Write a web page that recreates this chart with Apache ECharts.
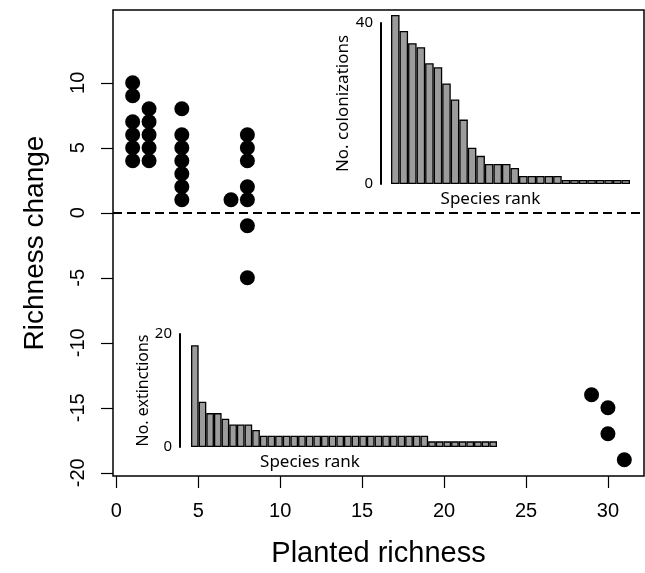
<!DOCTYPE html>
<html>
<head>
<meta charset="utf-8">
<script src="https://cdn.jsdelivr.net/npm/echarts@6/dist/echarts.min.js"></script>
<style>
  html, body { margin: 0; padding: 0; background: #fff; }
  #main { width: 645px; height: 573px; }
</style>
</head>
<body>
<div id="main"></div>
<script>
// main scatter: planted richness vs richness change
var plantedRichness = [1, 1, 1, 1, 1, 1, 2, 2, 2, 2, 2, 4, 4, 4, 4, 4, 4, 4, 7, 8, 8, 8, 8, 8, 8, 8, 29, 30, 30, 31];
var richnessChange  = [10, 9, 7, 6, 5, 4, 8, 7, 6, 5, 4, 8, 6, 5, 4, 3, 2, 1, 1, 6, 5, 4, 2, 1, -1, -5, -14, -15, -17, -19];
var xTicks = [0, 5, 10, 15, 20, 25, 30];
var yTicks = [-20, -15, -10, -5, 0, 5, 10];

// inset bars (species ranked)
var colonizations = [42, 38, 35, 34, 30, 29, 25, 21, 16, 9, 7, 5, 5, 5, 4, 2, 2, 2, 2, 2, 1, 1, 1, 1, 1, 1, 1, 1];
var extinctions = [18, 8, 6, 6, 5, 4, 4, 4, 3,
  2, 2, 2, 2, 2, 2, 2, 2, 2, 2, 2, 2, 2, 2, 2, 2, 2, 2, 2, 2, 2, 2,
  1, 1, 1, 1, 1, 1, 1, 1, 1];

var colRank = colonizations.map(function (v, i) { return i + 1; });
var extRank = extinctions.map(function (v, i) { return i + 1; });
var points = plantedRichness.map(function (x, i) { return [x, richnessChange[i]]; });

var mainFont = 'Liberation Sans';
var insetFont = 'Noto Sans';

var chart = echarts.init(document.getElementById('main'));
var option = {
  animation: false,
  backgroundColor: '#fff',
  grid: [
    { left: 113, top: 10, width: 531, height: 471, show: true, borderColor: '#000', borderWidth: 1.5, backgroundColor: 'transparent' },
    { left: 391, top: 23, width: 239, height: 161 },
    { left: 191, top: 334, width: 306, height: 113 }
  ],
  xAxis: [
    {
      gridIndex: 0, type: 'value', min: -0.2, max: 32.2,
      splitLine: { show: false }, axisLine: { show: false, onZero: false },
      axisTick: { show: true, length: 12, customValues: xTicks, lineStyle: { color: '#000', width: 1.2 } },
      axisLabel: { customValues: xTicks, margin: 25, fontSize: 20, fontFamily: mainFont, color: '#000' },
      name: 'Planted richness', nameLocation: 'middle', nameGap: 63,
      nameTextStyle: { fontSize: 29, fontFamily: mainFont, color: '#000' }
    },
    {
      gridIndex: 1, type: 'category', data: colRank,
      axisLine: { show: false, onZero: false }, axisTick: { show: false }, axisLabel: { show: false },
      name: 'Species rank', nameLocation: 'middle', nameGap: 7,
      nameTextStyle: { fontSize: 17, fontFamily: insetFont, color: '#000', padding: [0, 40, 0, 0] }
    },
    {
      gridIndex: 2, type: 'category', data: extRank,
      axisLine: { show: false, onZero: false }, axisTick: { show: false }, axisLabel: { show: false },
      name: 'Species rank', nameLocation: 'middle', nameGap: 7,
      nameTextStyle: { fontSize: 17, fontFamily: insetFont, color: '#000', padding: [0, 68, 0, 0] }
    }
  ],
  yAxis: [
    {
      gridIndex: 0, type: 'value', min: -20.25, max: 15.6,
      splitLine: { show: false }, axisLine: { show: false, onZero: false },
      axisTick: { show: true, length: 12, customValues: yTicks, lineStyle: { color: '#000', width: 1.2 } },
      axisLabel: { customValues: yTicks, rotate: 90, margin: 25, fontSize: 20, fontFamily: mainFont, color: '#000' },
      name: 'Richness change', nameLocation: 'middle', nameGap: 64,
      nameTextStyle: { fontSize: 28, fontFamily: mainFont, color: '#000' }
    },
    {
      gridIndex: 1, type: 'value', min: 0, max: 40, interval: 40, offset: 10,
      splitLine: { show: false },
      axisLine: { show: true, onZero: false, lineStyle: { color: '#000', width: 2 } },
      axisTick: { show: false },
      axisLabel: { margin: 8, fontSize: 15, fontFamily: insetFont, color: '#000' },
      name: 'No. colonizations', nameLocation: 'middle', nameGap: 22,
      nameTextStyle: { fontSize: 17, fontFamily: insetFont, color: '#000' }
    },
    {
      gridIndex: 2, type: 'value', min: 0, max: 20, interval: 20, offset: 11,
      splitLine: { show: false },
      axisLine: { show: true, onZero: false, lineStyle: { color: '#000', width: 2 } },
      axisTick: { show: false },
      axisLabel: { margin: 8, fontSize: 15, fontFamily: insetFont, color: '#000' },
      name: 'No. extinctions', nameLocation: 'middle', nameGap: 23,
      nameTextStyle: { fontSize: 16, fontFamily: insetFont, color: '#000' }
    }
  ],
  series: [
    {
      type: 'scatter', xAxisIndex: 0, yAxisIndex: 0,
      data: points, symbol: 'circle', symbolSize: 15,
      itemStyle: { color: '#000', opacity: 1 },
      markLine: {
        silent: true, symbol: 'none', label: { show: false },
        lineStyle: { color: '#000', width: 2, type: [9, 5] },
        data: [{ yAxis: 0 }]
      }
    },
    {
      type: 'bar', xAxisIndex: 1, yAxisIndex: 1, data: colonizations,
      barCategoryGap: '0%', clip: false,
      itemStyle: { color: '#9c9c9c', borderColor: '#000', borderWidth: 1.3 }
    },
    {
      type: 'bar', xAxisIndex: 2, yAxisIndex: 2, data: extinctions,
      barCategoryGap: '0%', clip: false,
      itemStyle: { color: '#9c9c9c', borderColor: '#000', borderWidth: 1.3 }
    }
  ]
};
chart.setOption(option);
</script>
</body>
</html>
